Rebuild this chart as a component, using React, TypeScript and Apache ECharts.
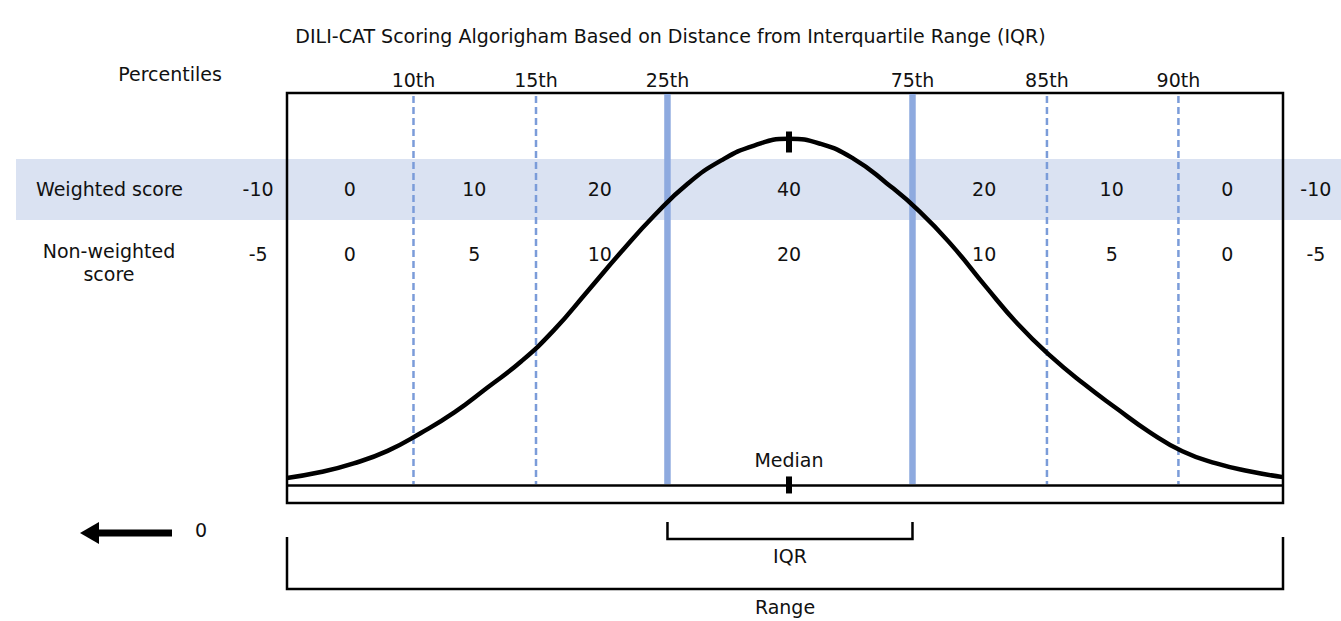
import React, { useEffect, useRef } from 'react';
import * as echarts from 'echarts';

// ---------- data ----------
const chartTitle = 'DILI-CAT Scoring Algorigham Based on Distance from Interquartile Range (IQR)';

// position along the range (0 = minimum, 100 = maximum)
const percentileLabels = ['10th', '15th', '25th', '75th', '85th', '90th'];
const percentilePositions = [12.7, 25.0, 38.2, 62.8, 76.3, 89.5];
const percentileIsQuartile = [false, false, true, true, false, false];

const medianPosition = 50.4;
const medianPeakHeight = 87.5;

const scoreColumnPositions = [-2.9, 6.3, 18.8, 31.4, 50.4, 70.0, 82.8, 94.4, 103.3];
const weightedScores = [-10, 0, 10, 20, 40, 20, 10, 0, -10];
const nonWeightedScores = [-5, 0, 5, 10, 20, 10, 5, 0, -5];

// bell curve (x: position in range, y: relative height)
const curveX = [0, 3.4, 6.7, 10.1, 13.4, 16.8, 20.1, 23.5, 26.8, 30.2, 33.5, 36.9, 40.2, 43.6, 46.9, 50.3, 53.6, 56.9, 60.2, 63.5, 66.8, 70.1, 73.4, 76.7, 80.0, 83.3, 86.6, 89.9, 93.3, 96.6, 100];
const curveY = [1.8, 3.3, 5.5, 8.7, 13.2, 18.5, 24.8, 31.5, 39.5, 49.5, 59.3, 68.8, 76.8, 82.8, 86.6, 88.3, 87.0, 83.2, 77.0, 69.8, 61.0, 50.8, 41.0, 32.8, 25.8, 19.5, 13.5, 8.6, 5.5, 3.5, 2.0];

const bracketLabels = ['IQR', 'Range'];
const bracketStarts = [38.2, 0];
const bracketEnds = [62.8, 100];

// ---------- layout / style ----------
const FONT = '"DejaVu Sans", "Liberation Sans", Arial, sans-serif';
const FS = 19;
const TXT = '#111111';
const GRID = { left: 287, top: 93, width: 996, height: 410 };
const Y_MIN = -4.6;
const Y_MAX = 100;
const ROW_WEIGHTED_Y = 189;
const ROW_NONWEIGHTED_Y = 254;
const BRACKET_TOP = [522, 537];
const BRACKET_BOTTOM = [539, 589];
const BRACKET_LABEL = [556, 607];

const textStyle = (text: string, align: string = 'center') => ({
  text,
  fontSize: FS,
  fontFamily: FONT,
  fill: TXT,
  align,
  verticalAlign: 'middle',
});

export default function App() {
  const ref = useRef<HTMLDivElement>(null);

  useEffect(() => {
    if (!ref.current) return;
    const chart = echarts.init(ref.current, undefined, { renderer: 'svg' });

    const option: any = {
      animation: false,
      title: {
        text: chartTitle,
        left: 'center',
        top: 21,
        textStyle: { fontSize: FS, fontWeight: 'normal', fontFamily: FONT, color: TXT },
      },
      grid: {
        ...GRID,
        show: true,
        borderColor: '#000',
        borderWidth: 2.5,
        backgroundColor: 'transparent',
        z: 1,
      },
      xAxis: { type: 'value', min: 0, max: 100, show: false },
      yAxis: { type: 'value', min: Y_MIN, max: Y_MAX, show: false },
      graphic: [
        {
          type: 'rect',
          z: -10,
          shape: { x: 16, y: 159, width: 1325, height: 61 },
          style: { fill: '#dae2f2' },
          silent: true,
        },
        { type: 'text', x: 170, y: 74, style: textStyle('Percentiles') },
        { type: 'text', x: 36, y: ROW_WEIGHTED_Y, style: textStyle('Weighted score', 'left') },
        { type: 'text', x: 109, y: 251, style: textStyle('Non-weighted') },
        { type: 'text', x: 109, y: 274, style: textStyle('score') },
        {
          type: 'polygon',
          shape: { points: [[80, 533], [99, 522], [99, 544]] },
          style: { fill: '#000' },
        },
        { type: 'rect', shape: { x: 97, y: 529.5, width: 75, height: 7 }, style: { fill: '#000' } },
        { type: 'text', x: 201, y: 530, style: textStyle('0') },
      ],
      series: [
        {
          name: 'percentiles',
          type: 'custom',
          coordinateSystem: 'cartesian2d',
          z: 2,
          clip: false,
          encode: { x: 0, y: 1 },
          data: percentilePositions.map((p) => [p, 0]),
          renderItem: (params: any, api: any) => {
            const i = params.dataIndex;
            const x = api.value(0);
            const top = api.coord([x, 100]);
            const bot = api.coord([x, 0]);
            const q = percentileIsQuartile[i];
            return {
              type: 'group',
              children: [
                {
                  type: 'line',
                  shape: { x1: top[0], y1: top[1] + (q ? 1 : 3), x2: bot[0], y2: bot[1] - 1 },
                  style: {
                    stroke: q ? '#8eaadf' : '#7b9cd9',
                    lineWidth: q ? 6.5 : 2.5,
                    lineDash: q ? null : [7, 4],
                  },
                },
                {
                  type: 'text',
                  x: top[0],
                  y: top[1] - 13,
                  style: textStyle(percentileLabels[i]),
                },
              ],
            };
          },
        },
        {
          name: 'scores',
          type: 'custom',
          coordinateSystem: 'cartesian2d',
          z: 3,
          clip: false,
          encode: { x: 0, y: 1 },
          data: scoreColumnPositions.map((p, i) => [p, 50, weightedScores[i], nonWeightedScores[i]]),
          renderItem: (params: any, api: any) => {
            const i = params.dataIndex;
            const px = api.coord([api.value(0), 0])[0];
            return {
              type: 'group',
              children: [
                { type: 'text', x: px, y: ROW_WEIGHTED_Y, style: textStyle(String(weightedScores[i])) },
                { type: 'text', x: px, y: ROW_NONWEIGHTED_Y, style: textStyle(String(nonWeightedScores[i])) },
              ],
            };
          },
        },
        {
          name: 'distribution',
          type: 'line',
          z: 5,
          smooth: 0.5,
          symbol: 'none',
          lineStyle: { color: '#000', width: 4.5 },
          data: curveX.map((x, i) => [x, curveY[i]]),
        },
        {
          name: 'median',
          type: 'scatter',
          z: 6,
          symbol: 'rect',
          itemStyle: { color: '#000', opacity: 1 },
          data: [
            { value: [medianPosition, medianPeakHeight], symbolSize: [6, 21] },
            {
              value: [medianPosition, 0],
              symbolSize: [6, 17],
              label: {
                show: true,
                position: 'top',
                distance: 7,
                formatter: 'Median',
                fontSize: FS,
                fontFamily: FONT,
                color: TXT,
                opacity: 1,
              },
            },
          ],
          markLine: {
            silent: true,
            symbol: 'none',
            label: { show: false },
            lineStyle: { color: '#000', width: 2.5, type: 'solid', opacity: 1 },
            data: [{ yAxis: 0 }],
          },
        },
        {
          name: 'brackets',
          type: 'custom',
          coordinateSystem: 'cartesian2d',
          z: 4,
          clip: false,
          encode: { x: [0, 1], y: 2 },
          data: bracketStarts.map((s, i) => [s, bracketEnds[i], 0]),
          renderItem: (params: any, api: any) => {
            const i = params.dataIndex;
            const x1 = api.coord([api.value(0), 0])[0];
            const x2 = api.coord([api.value(1), 0])[0];
            const yt = BRACKET_TOP[i];
            const yb = BRACKET_BOTTOM[i];
            return {
              type: 'group',
              children: [
                {
                  type: 'polyline',
                  shape: { points: [[x1, yt], [x1, yb], [x2, yb], [x2, yt]] },
                  style: { stroke: '#000', lineWidth: 2.5, fill: null },
                },
                {
                  type: 'text',
                  x: (x1 + x2) / 2,
                  y: BRACKET_LABEL[i],
                  style: textStyle(bracketLabels[i]),
                },
              ],
            };
          },
        },
      ],
    };

    chart.setOption(option);
    return () => chart.dispose();
  }, []);

  return (
    <div
      ref={ref}
      style={{ position: 'fixed', left: 0, top: 0, width: 1341, height: 621, background: '#fff' }}
    />
  );
}
